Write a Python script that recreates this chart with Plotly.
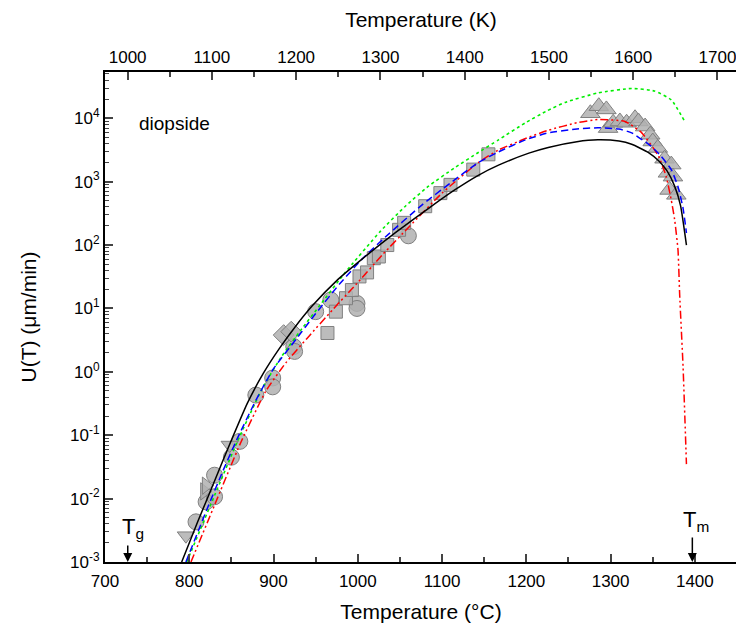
import plotly.graph_objects as go

# ---- fitted curves (T in °C, U in µm/min) ----
black_T = [791, 810, 830, 848, 869, 888, 907, 926, 946, 975, 1005, 1045, 1084, 1115, 1143, 1167, 1203, 1226, 1260, 1285, 1310, 1325, 1345, 1357, 1367, 1376, 1383, 1390]
black_U = [1.0e-3, 4.3e-3, 0.019, 0.072, 0.32, 0.95, 2.34, 5.2, 11.0, 27.5, 60, 158, 380, 740, 1260, 1820, 2820, 3470, 4270, 4570, 4370, 3890, 2880, 2140, 1480, 850, 420, 100]

blue_T = [796, 820, 840, 856, 879, 900, 927, 950, 978, 1005, 1033, 1076, 1110, 1143, 1167, 1199, 1226, 1260, 1285, 1310, 1325, 1348, 1360, 1372, 1380, 1386, 1390]
blue_U = [1.0e-3, 6.3e-3, 0.0275, 0.083, 0.355, 1.12, 3.3, 8.3, 24, 60, 135, 427, 955, 2000, 2950, 4570, 5890, 6760, 7080, 6760, 5890, 3630, 2510, 1550, 830, 380, 155]

red_T = [802, 830, 861, 891, 915, 940, 970, 998, 1030, 1061, 1100, 1143, 1167, 1199, 1226, 1260, 1285, 1317, 1337, 1357, 1366, 1372, 1376, 1380, 1382, 1386, 1390]
red_U = [1.0e-3, 7.9e-3, 0.076, 0.5, 1.41, 3.4, 9.5, 24, 72, 195, 660, 2000, 3160, 4790, 6460, 8510, 9550, 8910, 5890, 2510, 1200, 513, 251, 83, 16, 1.2, 0.035]

green_T = [797, 830, 857, 887, 910, 932, 955, 984, 1027, 1057, 1084, 1115, 1143, 1167, 1199, 1225, 1246, 1285, 1325, 1352, 1372, 1388]
green_U = [1.0e-3, 0.0112, 0.079, 0.56, 1.78, 4.47, 11.2, 35.5, 166, 417, 850, 1660, 2880, 4570, 8510, 13200, 17800, 25100, 29500, 26900, 19500, 8910]

# ---- experimental data ----
circ_T = [808, 820, 830, 830, 850, 860, 879, 899, 899, 924, 925, 950, 968, 999, 999, 1060]
circ_U = [0.0043, 0.0089, 0.0107, 0.0234, 0.045, 0.08, 0.43, 0.8, 0.58, 2.5, 2.1, 8.9, 13.6, 12, 10, 140]

sq_T = [964, 974, 986, 993, 1002, 1011, 1019, 1025, 1035, 1049, 1055, 1080, 1098, 1110, 1137, 1155]
sq_U = [4.1, 8.9, 14.5, 19.5, 32, 37, 62, 66, 100, 174, 224, 410, 660, 890, 1550, 2700]

dia_T = [912, 921]
dia_U = [3.8, 4.3]

tup_T = [1276, 1286, 1295, 1297, 1303, 1311, 1319, 1329, 1333, 1341, 1347, 1350, 1356, 1364, 1368, 1370, 1372, 1374, 1378]
tup_U = [12000, 15500, 13800, 7000, 8500, 8900, 8500, 10000, 8900, 7400, 5500, 4300, 3400, 2300, 1380, 740, 1860, 1200, 620]

tdn_T = [796, 848]
tdn_U = [0.0026, 0.07]

trt_T = [818, 820]
trt_U = [0.013, 0.016]

x_ticks_C = [700, 800, 900, 1000, 1100, 1200, 1300, 1400]
x_ticks_K = [1000, 1100, 1200, 1300, 1400, 1500, 1600, 1700]
y_tick_vals = [1e-3, 1e-2, 1e-1, 1e0, 1e1, 1e2, 1e3, 1e4]
y_tick_text = ["10<sup>-3</sup>", "10<sup>-2</sup>", "10<sup>-1</sup>", "10<sup>0</sup>",
               "10<sup>1</sup>", "10<sup>2</sup>", "10<sup>3</sup>", "10<sup>4</sup>"]
Tg_C = 727
Tm_C = 1397

FONT = "Liberation Sans, Arial, sans-serif"
fill = "rgba(176,176,176,0.85)"
edge = "rgba(128,128,128,1)"

fig = go.Figure()

def mk(T, U, symbol, size):
    fig.add_trace(go.Scatter(x=T, y=U, mode="markers", showlegend=False,
                             marker=dict(symbol=symbol, size=size, color=fill,
                                         line=dict(color=edge, width=1))))

mk(circ_T, circ_U, "circle", 16)
mk(sq_T, sq_U, "square", 13)
mk(dia_T, dia_U, "diamond", 16)
mk(tup_T, tup_U, "triangle-up", 17)
mk(tdn_T, tdn_U, "triangle-down", 15)
mk(trt_T, trt_U, "triangle-right", 15)

def ln(T, U, color, dash, width=1.5):
    fig.add_trace(go.Scatter(x=T, y=U, mode="lines", showlegend=False,
                             line=dict(color=color, dash=dash, width=width, shape="spline", smoothing=0.5)))

ln(green_T, green_U, "#00ee00", "dot", 1.6)
ln(red_T, red_U, "#ff0000", "8px,3px,2px,3px,2px,3px", 1.5)
ln(blue_T, blue_U, "#0000ff", "7px,4px", 1.5)
ln(black_T, black_U, "#000000", "solid", 1.5)

# dummy trace for top axis
fig.add_trace(go.Scatter(x=[x_ticks_K[0]], y=[1], xaxis="x2", mode="markers",
                         marker=dict(opacity=0), showlegend=False, hoverinfo="skip"))

# page body has an 8px margin: figure is sized so that the plot lands where the reference has it
fig.update_layout(
    width=736, height=629,
    margin=dict(l=97, r=5, t=64, b=75),
    plot_bgcolor="white", paper_bgcolor="white",
    font=dict(family=FONT, color="black", size=17),
    xaxis=dict(range=[700, 1450], tickvals=x_ticks_C, ticks="inside", ticklen=8, tickwidth=1.5,
               showline=True, linecolor="black", linewidth=2, showgrid=False, zeroline=False,
               minor=dict(dtick=50, tick0=700, ticks="inside", ticklen=5, tickwidth=1.5),
               tickfont=dict(size=17), ticklabelstandoff=3,
               title=dict(text="Temperature (°C)", font=dict(size=21), standoff=14)),
    xaxis2=dict(range=[700 + 273.15, 1450 + 273.15], overlaying="x", side="top",
                tickvals=x_ticks_K, ticks="inside", ticklen=8, tickwidth=1.5,
                showline=True, linecolor="black", linewidth=2, showgrid=False, zeroline=False,
                minor=dict(dtick=50, tick0=1000, ticks="inside", ticklen=5, tickwidth=1.5),
                tickfont=dict(size=17),
                title=dict(text="Temperature (K)", font=dict(size=21), standoff=16)),
    yaxis=dict(type="log", range=[-3, 4.73], tickvals=y_tick_vals, ticktext=y_tick_text,
               ticks="inside", ticklen=8, tickwidth=1.5, showline=True, linecolor="black",
               linewidth=2, mirror=True, showgrid=False, zeroline=False,
               minor=dict(ticks="inside", ticklen=4, tickwidth=1, dtick="D1", showgrid=False),
               tickfont=dict(size=17),
               title=dict(text="U(T) (μm/min)", font=dict(size=21), standoff=28)),
)

fig.add_annotation(x=0.05, y=0.894, xref="paper", yref="paper", text="diopside",
                   showarrow=False, font=dict(size=19), xanchor="left", yanchor="middle")

# Tg / Tm arrows
for xv, tail in [(Tg_C, -18), (Tm_C, -26)]:
    fig.add_annotation(x=xv, y=-3, xref="x", yref="y", text="", showarrow=True,
                       ax=0, ay=tail, arrowhead=2, arrowsize=1.2, arrowwidth=1.5,
                       arrowcolor="black")

fig.add_annotation(x=Tg_C, y=-2.72, xref="x", yref="y", text="T<sub>g</sub>",
                   showarrow=False, font=dict(size=22), xanchor="left", xshift=-8, yanchor="bottom")
fig.add_annotation(x=Tm_C, y=-2.6, xref="x", yref="y", text="T<sub>m</sub>",
                   showarrow=False, font=dict(size=22), xanchor="left", xshift=-11, yanchor="bottom")

fig.write_html("out.html")
